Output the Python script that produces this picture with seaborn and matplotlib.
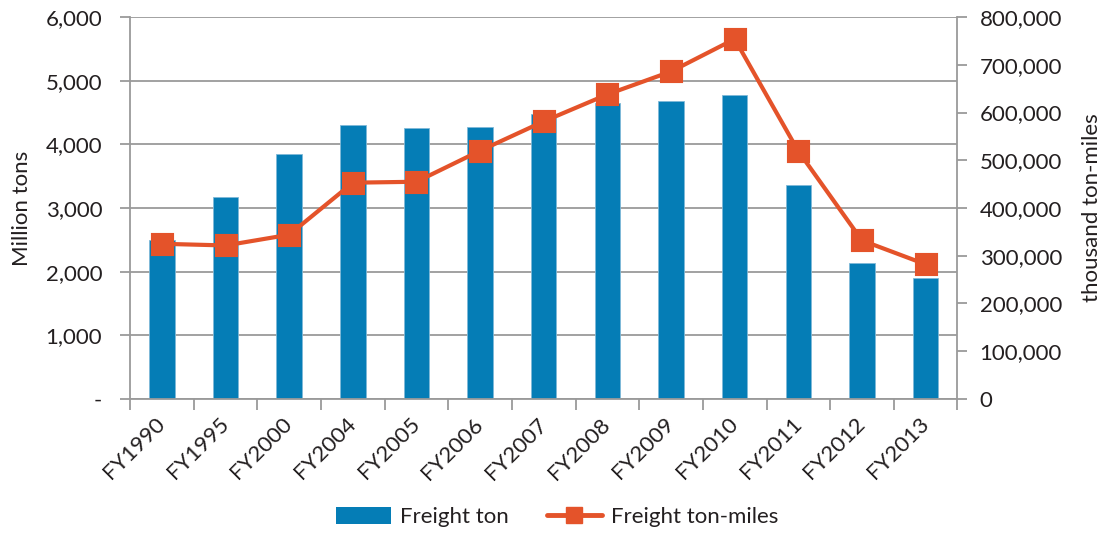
import matplotlib
matplotlib.use("Agg")
import matplotlib.pyplot as plt
from matplotlib.ticker import FuncFormatter, FixedLocator
from matplotlib.lines import Line2D
from matplotlib.patches import Patch
import numpy as np
import seaborn as sns

years = ["FY1990", "FY1995", "FY2000", "FY2004", "FY2005", "FY2006", "FY2007",
         "FY2008", "FY2009", "FY2010", "FY2011", "FY2012", "FY2013"]
freight_ton = [2490, 3170, 3850, 4300, 4260, 4270, 4470,
               4645, 4680, 4775, 3365, 2135, 1895]
freight_ton_miles = [325000, 321500, 344000, 453000, 455000, 520000, 581500,
                     638000, 686000, 754000, 519000, 332000, 282000]

BAR_COLOR = "#057db6"
LINE_COLOR = "#e4532a"
GRID = "#9a9a9a"
TEXT = "#231f20"
FS = 16

sns.set_theme(style="white")
plt.rcParams["font.family"] = ["Lato", "DejaVu Sans"]
plt.rcParams["text.color"] = TEXT

fig = plt.figure(figsize=(11.12, 5.34), dpi=100)
ax = fig.add_axes([0.117, 0.253, 0.744, 0.715])

sns.barplot(x=years, y=freight_ton, color=BAR_COLOR, width=0.4,
            edgecolor="#7fb9d8", linewidth=0.6, saturation=1, ax=ax)
ax.set_ylim(0, 6000)
ax.set_xlim(-0.5, len(years) - 0.5)
ax.set_yticks(np.arange(0, 6001, 1000))
ax.yaxis.set_major_formatter(FuncFormatter(lambda v, p: "-" if v == 0 else f"{int(v):,}"))
ax.grid(axis="y", color=GRID, linewidth=1.3)
ax.set_axisbelow(True)
ax.set_ylabel("Million tons", fontsize=FS, color=TEXT, labelpad=10)
ax.set_xlabel("")

ax2 = ax.twinx()
sns.pointplot(x=years, y=freight_ton_miles, color=LINE_COLOR, markers="s",
              markersize=14, linewidth=3.0, ax=ax2)
ax2.set_ylim(0, 800000)
ax2.set_xlim(-0.5, len(years) - 0.5)
ax2.set_yticks(np.arange(0, 800001, 100000))
ax2.yaxis.set_major_formatter(FuncFormatter(lambda v, p: f"{int(v):,}"))
ax2.set_ylabel("thousand ton-miles", fontsize=FS, color=TEXT, labelpad=14)
ax2.grid(False)

for a in (ax, ax2):
    for s in a.spines.values():
        s.set_visible(False)
ax.spines["left"].set_visible(True)
ax.spines["bottom"].set_visible(True)
ax2.spines["right"].set_visible(True)
for s in (ax.spines["left"], ax.spines["bottom"], ax2.spines["right"]):
    s.set_color(GRID)
    s.set_linewidth(1.3)

ax.tick_params(axis="y", which="major", left=True, length=7, width=1.3,
               color=GRID, labelsize=FS, labelcolor=TEXT, pad=13)
ax2.tick_params(axis="y", which="major", right=True, length=7, width=1.3,
                color=GRID, labelsize=FS, labelcolor=TEXT, pad=9)

# category boundaries carry the tick marks; labels sit under the bars
ax.tick_params(axis="x", which="major", length=0, labelsize=FS,
               labelcolor=TEXT, pad=16)
ax.xaxis.set_minor_locator(FixedLocator(np.arange(-0.5, len(years), 1.0)))
ax.tick_params(axis="x", which="minor", bottom=True, length=8, width=1.3, color=GRID)
ax2.tick_params(axis="x", which="both", length=0, labelbottom=False)
for lbl in ax.get_xticklabels():
    lbl.set_rotation(45)
    lbl.set_ha("right")
    lbl.set_va("center")
    lbl.set_rotation_mode("anchor")

handles = [Patch(facecolor=BAR_COLOR, edgecolor="none"),
           Line2D([0], [0], color=LINE_COLOR, linewidth=3.5, marker="s", markersize=12)]
fig.legend(handles, ["Freight ton", "Freight ton-miles"], loc="center",
           bbox_to_anchor=(0.501, 0.032), ncol=2, frameon=False, fontsize=FS,
           handlelength=2.5, handleheight=0.8, columnspacing=1.7, handletextpad=0.4)

fig.savefig("out.png", dpi=100)
